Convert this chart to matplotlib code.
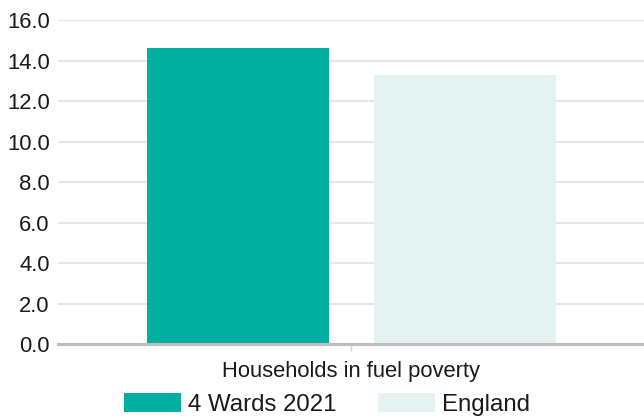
import matplotlib
matplotlib.use("Agg")
import matplotlib.pyplot as plt

plt.rcParams['font.family'] = ['Liberation Sans', 'DejaVu Sans']

category = ["Households in fuel poverty"]
series_names = ["4 Wards 2021", "England"]
values = [[14.6], [13.3]]
colors = ["#02ae9f", "#e4f2f2"]
yticks = [0, 2, 4, 6, 8, 10, 12, 14, 16]

fig = plt.figure(figsize=(6.44, 4.19), dpi=100)
ax = fig.add_axes([0.090, 0.179, 0.910, 0.773])

width = 0.31
offsets = [-0.193, 0.194]
for name, vals, col, off in zip(series_names, values, colors, offsets):
    ax.bar([i + off for i in range(len(category))], vals, width=width,
           color=col, label=name, zorder=3)

ax.set_xlim(-0.5, 0.5)
ax.set_ylim(0, 16)
ax.set_yticks(yticks)
ax.set_yticklabels(["%.1f" % v for v in yticks], fontsize=15.8, color="#1a1a1a")
ax.set_xticks(range(len(category)))
ax.set_xticklabels(category, fontsize=15.8, color="#1a1a1a")

ax.yaxis.grid(True, color="#e6e6e6", linewidth=1.5, zorder=0)
ax.tick_params(axis="y", length=0, pad=6)
ax.tick_params(axis="x", length=5, color="#d0d0d0", width=1, pad=7)

for s in ["top", "right", "left"]:
    ax.spines[s].set_visible(False)
ax.spines["bottom"].set_color("#bdbdbd")
ax.spines["bottom"].set_linewidth(2.2)
ax.spines["bottom"].set_zorder(4)

fig.legend(loc="lower center", bbox_to_anchor=(0.508, -0.045), ncol=2,
           frameon=False, fontsize=17.3, handlelength=2.37, handleheight=0.83,
           handletextpad=0.29, columnspacing=1.75, labelcolor="#1a1a1a")

fig.savefig("out.png", dpi=100)
